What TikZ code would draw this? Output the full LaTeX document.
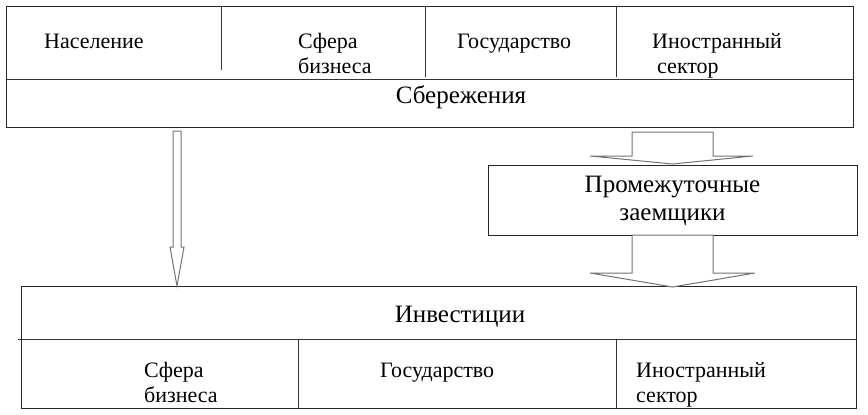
\documentclass[tikz,border=0pt]{standalone}
\usepackage{fontspec}
\setmainfont{Liberation Serif}
\begin{document}
\begin{tikzpicture}[x=1pt,y=-1pt,line join=miter]
\tikzset{
  frame/.style={draw=black!85, line width=1.3pt, inner sep=0pt, anchor=north west},
  divline/.style={draw=black!80, line width=1pt},
  blockarrow/.style={draw=black!55, line width=1pt, fill=white},
  lab/.style={inner sep=0pt, anchor=base west, font=\fontsize{22}{25}\selectfont},
  big/.style={inner sep=0pt, anchor=base, font=\fontsize{25}{28}\selectfont}
}
\useasboundingbox (0,0) rectangle (868,415);
% top box
\node[frame, minimum width=847pt, minimum height=121pt] (sav) at (6,6) {};
\draw[divline] (6,79) -- (853,79);
\draw[divline] (221,6) -- (221,70);
\draw[divline] (425,6) -- (425,77);
\draw[divline] (616,6) -- (616,77);
\node[lab] (t1) at (44,48) {Население};
\node[lab] (t2) at (298,48) {\begin{tabular}[t]{@{}l@{}}Сфера\\бизнеса\end{tabular}};
\node[lab] (t3) at (457,48) {Государство};
\node[lab] (t4) at (652,48) {\begin{tabular}[t]{@{}l@{}}Иностранный\\\hspace{5pt}сектор\end{tabular}};
\node[big] (t5) at (461,103) {Сбережения};
% middle box
\node[frame, minimum width=369pt, minimum height=70pt] (mid) at (488,165) {};
\node[big, align=center, font=\fontsize{25}{28}\selectfont] (t6) at (672.5,192) {\begin{tabular}[t]{@{}c@{}}Промежуточные\\заемщики\end{tabular}};
% bottom box
\node[frame, minimum width=835pt, minimum height=122pt] (inv) at (21,286) {};
\draw[divline] (18,339) -- (856,339);
\draw[divline] (298,339) -- (298,408);
\draw[divline] (616,339) -- (616,408);
\node[big] (b1) at (460,322) {Инвестиции};
\node[lab] (b2) at (144,377) {\begin{tabular}[t]{@{}l@{}}Сфера\\бизнеса\end{tabular}};
\node[lab] (b3) at (380,377) {Государство};
\node[lab] (b4) at (636,377) {\begin{tabular}[t]{@{}l@{}}Иностранный\\сектор\end{tabular}};
% arrows
\draw[blockarrow] (173,131) -- (181,131) -- (181,247) -- (184,247) -- (177,286) -- (170,247) -- (173,247) -- cycle;
\draw[blockarrow] (632,132) -- (713,132) -- (713,156) -- (753,156) -- (672.5,164) -- (590,156) -- (632,156) -- cycle;
\draw[blockarrow] (632,235) -- (713,235) -- (713,273) -- (755,273) -- (672.5,287) -- (590,273) -- (632,273) -- cycle;
\end{tikzpicture}
\end{document}
